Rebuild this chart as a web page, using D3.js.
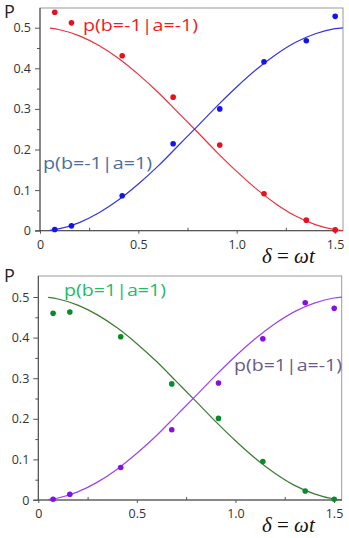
<!DOCTYPE html>
<html>
<head>
<meta charset="utf-8">
<script src="https://cdn.jsdelivr.net/npm/d3@7"></script>
<style>
  body { margin: 0; background: #fff; }
  svg { display: block; }
  .tick text { font-family: "Open Sans", sans-serif; font-size: 12.5px; fill: #333; }
</style>
</head>
<body>
<div id="chart"></div>
<script>
// measured points (delta, P)
const deltas = [0.075, 0.16, 0.418, 0.677, 0.914, 1.139, 1.354, 1.501];
const redPts = [0.538, 0.512, 0.431, 0.329, 0.211, 0.091, 0.026, 0.002];
const bluePts = [0.003, 0.012, 0.086, 0.214, 0.300, 0.416, 0.468, 0.528];
const greenPts = [0.460, 0.463, 0.402, 0.286, 0.201, 0.095, 0.022, 0.002];
const purplePts = [0.002, 0.014, 0.080, 0.173, 0.288, 0.397, 0.486, 0.472];

// curves
const curveX = [0.05, 0.1, 0.2, 0.3, 0.4, 0.5, 0.6, 0.7, 0.8, 0.9, 1.0, 1.1, 1.2, 1.3, 1.4, 1.5, 1.54];
const fallCurve = [0.499, 0.495, 0.480, 0.456, 0.424, 0.385, 0.341, 0.292, 0.243, 0.193, 0.146, 0.103, 0.066, 0.036, 0.015, 0.0025, 0.0005];
const riseCurve = [0.001, 0.005, 0.020, 0.044, 0.076, 0.115, 0.159, 0.208, 0.257, 0.307, 0.354, 0.397, 0.434, 0.464, 0.485, 0.4975, 0.4995];

const xTicks = [0, 0.5, 1.0, 1.5];
const yTicks = [0, 0.1, 0.2, 0.3, 0.4, 0.5];

const svg = d3.select("#chart").append("svg")
    .attr("width", 349)
    .attr("height", 538);

const panels = [
  { left: 40, top: 8, right: 343, bottom: 230.7, xEnd: 335,
    fall: { pts: redPts, dot: "#e8101c", line: "#e8333c" },
    rise: { pts: bluePts, dot: "#1414e6", line: "#3434dc" },
    labels: [
      { text: "p(b=-1|a=-1)", x: 83, y: 31, w: 115, color: "#ee1c25" },
      { text: "p(b=-1|a=1)", x: 43, y: 169, w: 109, color: "#4a6e9e" }
    ],
    pY: 18, deltaY: 263 },
  { left: 38.3, top: 276, right: 341.7, bottom: 500, xEnd: 334,
    fall: { pts: greenPts, dot: "#0a8a2a", line: "#3a7c2e" },
    rise: { pts: purplePts, dot: "#8410e6", line: "#9a44f0" },
    labels: [
      { text: "p(b=1|a=1)", x: 64, y: 296, w: 102, color: "#22bb66" },
      { text: "p(b=1|a=-1)", x: 234, y: 371, w: 108, color: "#6a5a88" }
    ],
    pY: 282, deltaY: 532 }
];

panels.forEach(function(p) {
  const x = d3.scaleLinear().domain([0, 1.5]).range([p.left, p.xEnd]);
  const y = d3.scaleLinear().domain([0, 0.5]).range([p.bottom, p.bottom - 5 * 40.6]);

  // frame
  svg.append("rect")
      .attr("x", p.left).attr("y", p.top)
      .attr("width", p.right - p.left).attr("height", p.bottom - p.top)
      .attr("fill", "none").attr("stroke", "#9a9a9a").attr("stroke-width", 1);

  // minor ticks
  svg.append("g")
      .attr("transform", `translate(0,${p.bottom})`)
      .call(d3.axisTop(x).tickValues([0.25, 0.75, 1.25]).tickSize(3).tickFormat(""))
      .call(g => g.select(".domain").remove())
      .selectAll("line").attr("stroke", "#555");
  svg.append("g")
      .attr("transform", `translate(${p.left},0)`)
      .call(d3.axisLeft(y).tickValues([0.05, 0.15, 0.25, 0.35, 0.45]).tickSize(3).tickFormat(""))
      .call(g => g.select(".domain").remove())
      .selectAll("line").attr("stroke", "#555");

  // axes
  const xAxis = svg.append("g")
      .attr("transform", `translate(0,${p.bottom})`)
      .call(d3.axisBottom(x).tickValues(xTicks).tickSize(3).tickPadding(6)
        .tickFormat(d => d === 0 ? "0" : d3.format(".1f")(d)));
  xAxis.select(".domain").attr("stroke", "#444").attr("d", `M${p.left - 5},0H${p.right}`);
  xAxis.selectAll("line").attr("stroke", "#555");

  const yAxis = svg.append("g")
      .attr("transform", `translate(${p.left},0)`)
      .call(d3.axisLeft(y).tickValues(yTicks).tickSize(5).tickPadding(4)
        .tickFormat(d => d === 0 ? "0" : d3.format(".1f")(d)));
  yAxis.select(".domain").attr("stroke", "#444").attr("d", `M0,${p.bottom}V${p.top}`);
  yAxis.selectAll("line").attr("stroke", "#555");

  // curves
  const line = d3.line().x(d => x(d[0])).y(d => y(d[1])).curve(d3.curveMonotoneX);
  svg.append("path")
      .datum(d3.zip(curveX, fallCurve))
      .attr("fill", "none").attr("stroke", p.fall.line).attr("stroke-width", 1.2)
      .attr("d", line);
  svg.append("path")
      .datum(d3.zip(curveX, riseCurve))
      .attr("fill", "none").attr("stroke", p.rise.line).attr("stroke-width", 1.2)
      .attr("d", line);

  // points
  [p.fall, p.rise].forEach(function(s) {
    svg.append("g").selectAll("circle")
        .data(d3.zip(deltas, s.pts))
        .join("circle")
        .attr("cx", d => x(d[0]))
        .attr("cy", d => y(d[1]))
        .attr("r", 2.8)
        .attr("fill", s.dot);
  });

  // series labels
  p.labels.forEach(function(l) {
    svg.append("text")
        .attr("x", l.x).attr("y", l.y)
        .attr("textLength", l.w).attr("lengthAdjust", "spacingAndGlyphs")
        .style("font-family", "'Open Sans', sans-serif")
        .style("font-size", "17px")
        .attr("fill", l.color)
        .text(l.text);
  });

  // P label
  svg.append("text")
      .attr("x", 4).attr("y", p.pY)
      .style("font-family", "'Open Sans', sans-serif")
      .style("font-size", "18px")
      .attr("fill", "#222")
      .text("P");

  // delta = omega t
  const dl = svg.append("text")
      .attr("x", 262).attr("y", p.deltaY)
      .style("font-family", "'Liberation Serif', 'DejaVu Serif', serif")
      .style("font-size", "21px")
      .attr("fill", "#111");
  dl.append("tspan").style("font-style", "italic").text("δ");
  dl.append("tspan").text(" = ");
  dl.append("tspan").style("font-style", "italic").text("ωt");
});
</script>
</body>
</html>
